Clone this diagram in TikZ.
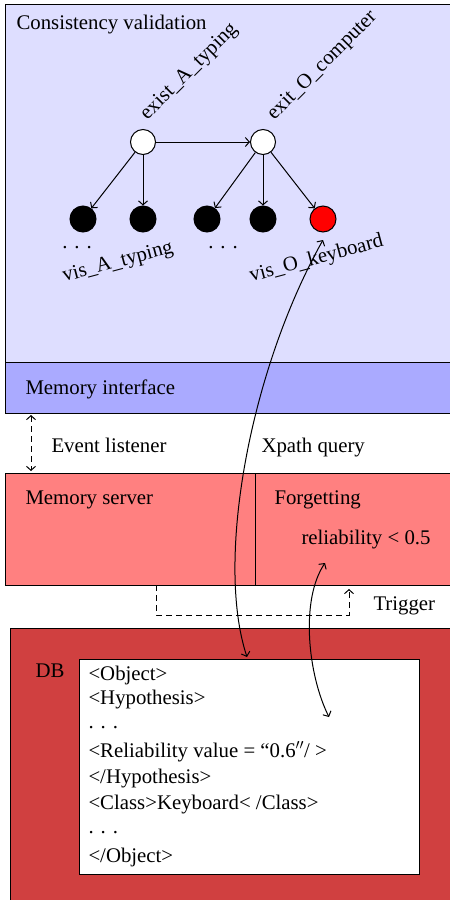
\documentclass[tikz,border=0pt]{standalone}
\usepackage{fontspec}
\setmainfont{Liberation Serif}
\usetikzlibrary{positioning,arrows.meta}
\definecolor{cvback}{RGB}{222,222,255}
\definecolor{miback}{RGB}{170,170,255}
\definecolor{msback}{RGB}{255,128,128}
\definecolor{dbback}{RGB}{208,64,64}
\begin{document}
\begin{tikzpicture}[x=1pt, y=-1pt, line width=1pt,
  >={Straight Barb[length=4pt,width=9pt]},
  font=\fontsize{20.8}{24}\selectfont,
  open/.style={circle, draw, fill=white, minimum size=25pt, inner sep=0pt},
  full/.style={circle, draw, fill=black, minimum size=26pt, inner sep=0pt},
  lbl/.style={anchor=base west, inner sep=0pt},
  dashline/.style={dash pattern=on 6pt off 4pt}]
\useasboundingbox (0,0) rectangle (450,900);
\clip (0,0) rectangle (450,900);

% boxes
\draw[fill=cvback] (5,4) rectangle (460,362);
\draw[fill=miback] (5,362) rectangle (460,413);
\draw[fill=msback] (5,473) rectangle (255,585);
\draw[fill=msback] (255,473) rectangle (460,585);
\draw[fill=dbback] (10,628) rectangle (460,905);
\node[draw, fill=white, inner sep=0pt, minimum width=340pt, minimum height=215pt, anchor=north west] (xml) at (79,659) {};

% labels
\node[lbl] (cv) at (16,29) {Consistency validation};
\node[lbl] (mi) at (25,394) {Memory interface};
\node[lbl] (el) at (51,452) {Event listener};
\node[lbl] (xp) at (261,452) {Xpath query};
\node[lbl] (ms) at (25,504) {Memory server};
\node[lbl] (fg) at (274,504) {Forgetting};
\node[lbl] (rl) at (301,544) {reliability < 0.5};
\node[lbl] (tr) at (373,610) {Trigger};
\node[lbl] (db) at (35,677) {DB};

% xml lines
\node[lbl] (l1) at (88,680) {<Object>};
\node[lbl] (l2) at (88,704) {<Hypothesis>};
\node[lbl] (l3) at (88,728) {. . .};
\node[lbl] (l4) at (88,757) {<Reliability value = “0.6$''$/ >};
\node[lbl] (l5) at (88,783) {</Hypothesis>};
\node[lbl] (l6) at (88,809) {<Class>Keyboard< /Class>};
\node[lbl] (l7) at (88,833) {. . .};
\node[lbl] (l8) at (88,862) {</Object>};

% graph
\node[open] (eA) at (143,142) {};
\node[open] (eB) at (263,142) {};
\node[full] (v1) at (83,219) {};
\node[full] (v2) at (143,219) {};
\node[full] (v3) at (207,219) {};
\node[full] (v4) at (263,219) {};
\node[full, fill=red] (vk) at (323,219) {};
\node[anchor=base] (d1) at (77,248) {. . .};
\node[anchor=base] (d2) at (223,248) {. . .};

\node[lbl, rotate=45] (nA) at (147,121) {exist\_A\_typing};
\node[lbl, rotate=45] (nB) at (274,121) {exit\_O\_computer};
\node[lbl, rotate=15] (nv1) at (64,282) {vis\_A\_typing};
\node[lbl, rotate=15] (nv2) at (251,282) {vis\_O\_keyboard};

\draw[->] (eA) -- (eB);
\draw[->] (eA) -- (v1);
\draw[->] (eA) -- (v2);
\draw[->] (eB) -- (v3);
\draw[->] (eB) -- (v4);
\draw[->] (eB) -- (vk);

% connectors
\coordinate (k1) at (323,240);
\coordinate (k2) at (247,657);
\draw[<->] (k1) .. controls (250,370) and (215,560) .. (k2);

\coordinate (r1) at (325,563);
\coordinate (r2) at (329,717);
\draw[<->] (r1) .. controls (300,600) and (308,675) .. (r2);

\coordinate (e1) at (31,415);
\coordinate (e2) at (31,471);
\draw[dashline, <->] (e1) -- (e2);

\coordinate (t1) at (156,585);
\coordinate (t2) at (349,589);
\draw[dashline, ->] (t1) -- ++(0,30) -| (t2);
\end{tikzpicture}
\end{document}
